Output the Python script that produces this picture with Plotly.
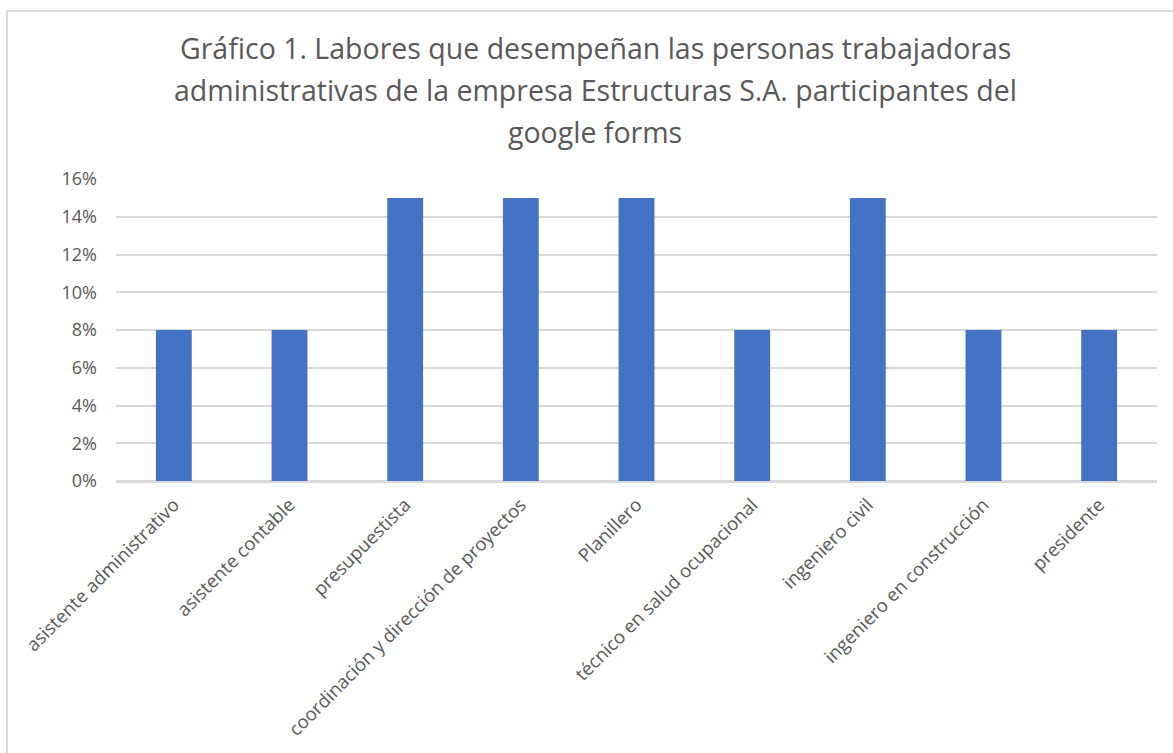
import plotly.graph_objects as go

categories = [
    "asistente administrativo",
    "asistente contable",
    "presupuestista",
    "coordinación y dirección de proyectos",
    "Planillero",
    "técnico en salud ocupacional",
    "ingeniero civil",
    "ingeniero en construcción",
    "presidente",
]
values = [0.08, 0.08, 0.15, 0.15, 0.15, 0.08, 0.15, 0.08, 0.08]
y_ticks = [0, 0.02, 0.04, 0.06, 0.08, 0.10, 0.12, 0.14, 0.16]
title_lines = [
    "Gráfico 1. Labores que desempeñan las personas trabajadoras",
    "administrativas de la empresa Estructuras S.A. participantes del",
    "google forms",
]

W, H = 1173, 753
L, R, T, B = 116, 16, 179, 272
pw, ph = W - L - R, H - T - B

def px_x(x):
    return (x - L) / pw

def px_y(y):
    return (H - B - y) / ph

font = "Open Sans, Liberation Sans, sans-serif"
gray = "#595959"

fig = go.Figure(go.Bar(
    x=categories, y=values, marker=dict(color="#4472C4", line=dict(width=0)),
))

annotations = []
for i, line in enumerate(title_lines):
    annotations.append(dict(
        text=line, x=px_x(595), y=px_y(48 + 42 * i), xref="paper", yref="paper",
        xanchor="center", yanchor="middle", showarrow=False,
        font=dict(family=font, size=28.5, color=gray),
    ))

fig.update_layout(
    width=W, height=H,
    margin=dict(l=L, r=R, t=T, b=B),
    paper_bgcolor="white", plot_bgcolor="white",
    bargap=0.69,
    showlegend=False,
    annotations=annotations,
    shapes=[dict(type="rect", xref="paper", yref="paper",
                 x0=px_x(7), x1=px_x(1190), y0=px_y(11), y1=px_y(780),
                 line=dict(color="#d0d0d0", width=1.5), fillcolor="rgba(0,0,0,0)",
                 layer="below")],
    xaxis=dict(
        tickangle=-45, tickfont=dict(family=font, size=18.5, color=gray),
        showgrid=False, showline=True, linecolor="#d9d9d9", linewidth=1.5,
        ticks="", ticklabelstandoff=4,
    ),
    yaxis=dict(
        range=[0, 0.16], tickvals=y_ticks, tickformat=".0%",
        tickfont=dict(family=font, size=18, color=gray),
        showgrid=True, gridcolor="#d9d9d9", gridwidth=1.5,
        zeroline=True, zerolinecolor="#d9d9d9", zerolinewidth=1.5,
        showline=False, ticks="", ticklabelstandoff=18,
    ),
)

fig.write_html("out.html")
